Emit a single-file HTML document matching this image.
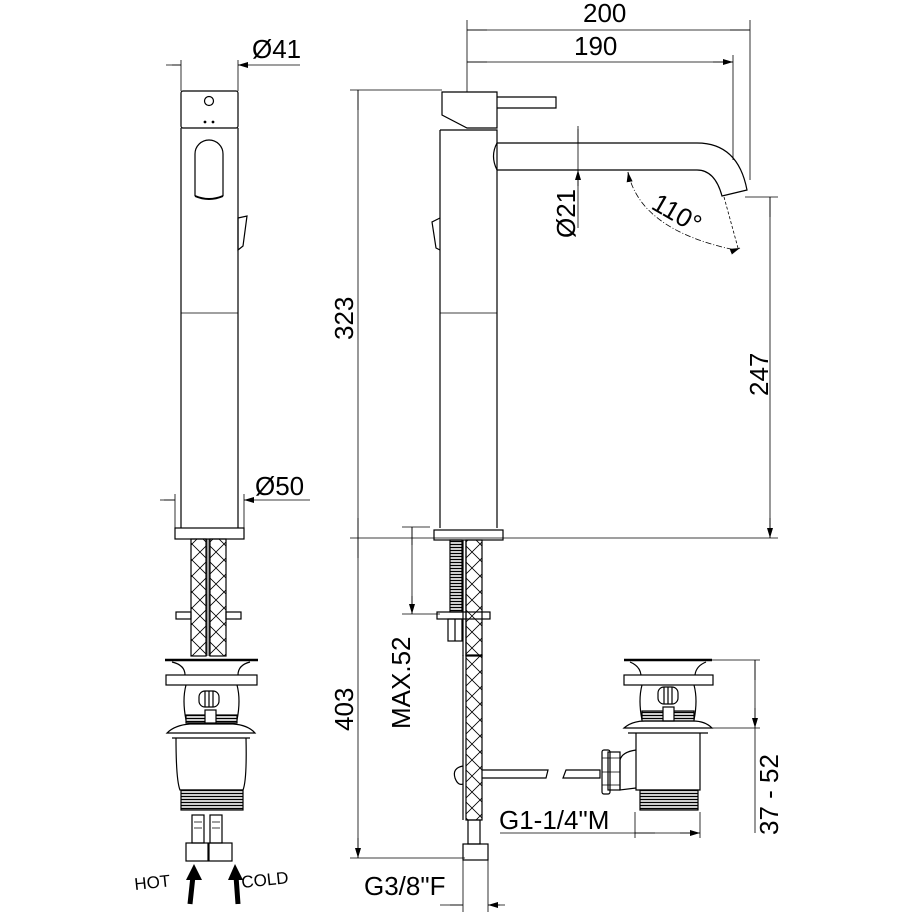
<!DOCTYPE html>
<html><head><meta charset="utf-8"><style>
html,body{margin:0;padding:0;background:#fff}
svg{display:block}
text{font-family:"Liberation Sans",sans-serif;fill:#000}
</style></head><body>
<svg width="914" height="914" viewBox="0 0 914 914" xmlns="http://www.w3.org/2000/svg">
<defs>
<pattern id="xh" width="16" height="16" patternUnits="userSpaceOnUse">
<path d="M0 0L16 16M16 0L0 16" stroke="#000" stroke-width="0.8"/>
</pattern>
<pattern id="th" width="4" height="3" patternUnits="userSpaceOnUse">
<rect width="4" height="3" fill="#fff"/><path d="M0 1.5H4" stroke="#000" stroke-width="1.4"/>
</pattern>
<marker id="ar" markerWidth="10" markerHeight="6" refX="10" refY="3" orient="auto-start-reverse" markerUnits="userSpaceOnUse">
<path d="M0 0L10 3L0 6Z" fill="#000"/>
</marker>
</defs>
<g fill="none" stroke="#000" stroke-width="1.2">
<!-- LEFT VIEW -->
<path d="M181 60V91M238 60V91" stroke-width="0.8"/>
<path d="M166 65H181M238 65H300" stroke-width="0.8"/>
<path d="M172 65H181M247 65H238" stroke-width="0.8" marker-end="url(#ar)"/>
<rect x="181" y="91" width="57" height="37" rx="2"/>
<circle cx="209" cy="101" r="4.5"/>
<circle cx="205" cy="122" r="0.8" fill="#000"/><circle cx="213" cy="122" r="0.8" fill="#000"/>
<path d="M181 128V528M238 128V528"/>
<path d="M195 196V154A14 14 0 0 1 223 154V196"/>
<path d="M195 196Q209 202 223 196" stroke-width="2"/>
<path d="M238 218L247 216L243 246L238 250Z"/>
<path d="M181 313H238" stroke-width="0.8"/>
<rect x="175" y="528" width="69" height="11"/>
<path d="M175 494V528M244 494V528" stroke-width="0.8"/>
<path d="M160 500H175M244 500H310" stroke-width="0.8"/>
<path d="M164 500H175M254 500H244" stroke-width="0.8" marker-end="url(#ar)"/>
<rect x="191" y="539" width="15" height="117" fill="url(#xh)"/>
<rect x="210" y="539" width="16" height="117" fill="url(#xh)"/>
<path d="M207 539V656M209 539V656" stroke-width="0.8"/>
<rect x="176" y="612" width="15" height="7"/><rect x="226" y="612" width="15" height="7"/>
<!-- left drain -->
<path d="M165 660H258" stroke-width="2.5"/>
<path d="M172 662Q185 665 185 675M250 662Q238 665 238 675"/>
<rect x="166" y="675" width="91" height="10"/>
<path d="M186 685Q182 700 186 720M237 685Q241 700 237 720"/>
<rect x="199" y="691" width="20" height="16" rx="6"/>
<path d="M205 691V707M209 691V707M213 691V707"/>
<rect x="186" y="715" width="51" height="8" fill="url(#th)"/>
<rect x="205" y="710" width="11" height="13" fill="#fff"/>
<path d="M167 733Q175 725 190 724H233Q248 725 255 733H167ZM167 733H255M172 738H250"/>
<path d="M176 738Q176 780 180 790H243Q247 780 246 738"/>
<rect x="181" y="790" width="62" height="20" fill="url(#th)"/>
<rect x="192" y="815" width="12" height="28"/><rect x="210" y="815" width="12" height="28"/>
<path d="M194 822H202M194 828H202M212 822H220M212 828H220" stroke-width="0.8"/>
<rect x="186" y="843" width="22" height="18"/><rect x="209" y="843" width="23" height="18"/>
<!-- MIDDLE VIEW -->
<path d="M350 90H442M358 90V538M358 538V858" stroke-width="0.8"/>
<path d="M358 110V90M358 518V538M358 558V538M358 838V858" stroke-width="0.8" marker-end="url(#ar)"/>
<path d="M350 538H778M350 858H465" stroke-width="0.8"/>
<path d="M467 20V92M750 20V180M733 55V160" stroke-width="0.8"/>
<path d="M467 30H750M467 62H733" stroke-width="0.8"/>
<path d="M487 30H467M730 30H750M487 62H467M713 62H733" stroke-width="0.8" marker-end="url(#ar)"/>
<path d="M442 92H497V128H467L442 115Z"/>
<path d="M497 97H556V108H497"/>
<path d="M440 130H497V528M440 130V528"/>
<path d="M440 313H497" stroke-width="0.8"/>
<path d="M440 218L432 222L436 248L440 250"/>
<path d="M497 143H697Q738 143 747 190L722 196Q715 170 697 170H497"/>
<path d="M497 143Q490 156 497 170"/>
<path d="M578 126V228" stroke-width="0.8"/>
<path d="M578 129V143M578 186V170" stroke-width="0.8" marker-end="url(#ar)"/>
<path d="M628 172Q640 230 735 250" stroke-width="0.8" stroke-dasharray="6 2 1 2"/>
<path d="M735 250L740 248" marker-end="url(#ar)" stroke-width="0.8"/>
<path d="M629 178L628 172" marker-end="url(#ar)" stroke-width="0.8"/>
<path d="M724 197L738 248" stroke-width="0.8" stroke-dasharray="3 2"/>
<path d="M745 197H778M770 197V538" stroke-width="0.8"/>
<path d="M770 217V197M770 518V538" stroke-width="0.8" marker-end="url(#ar)"/>
<rect x="434" y="530" width="69" height="10"/>
<rect x="450" y="540" width="12" height="72" fill="url(#th)"/>
<path d="M463 540V656M466 540V656"/>
<rect x="466" y="540" width="16" height="116" fill="url(#xh)"/>
<rect x="437" y="612" width="53" height="7"/>
<rect x="448" y="619" width="14" height="22"/><path d="M455 619V641"/>
<path d="M402 527H430M402 614H440M412 527V614" stroke-width="0.8"/>
<path d="M412 545V527M412 596V614" stroke-width="0.8" marker-end="url(#ar)"/>
<rect x="466" y="655" width="16" height="165" fill="url(#xh)"/>
<path d="M463 655V820" />
<path d="M463 766Q452 768 455 778Q458 786 463 784"/>
<path d="M482 770H548L546 778H482"/>
<path d="M566 770H600V778H563Z"/>
<rect x="468" y="820" width="12" height="24"/>
<rect x="463" y="844" width="25" height="16"/>
<path d="M463 860V912M488 860V912" stroke-width="0.8"/>
<path d="M440 905H463M488 905H505" stroke-width="0.8"/>
<path d="M450 905H463M500 905H488" stroke-width="0.8" marker-end="url(#ar)"/>
<!-- right drain -->
<path d="M624 660H712" stroke-width="2.5"/>
<path d="M630 662Q640 666 641 675M706 662Q696 666 695 675"/>
<rect x="624" y="675" width="89" height="10"/>
<path d="M642 685Q638 700 642 720M694 685Q698 700 694 720"/>
<rect x="658" y="687" width="20" height="17" rx="6"/>
<path d="M664 687V704M668 687V704M672 687V704"/>
<rect x="642" y="711" width="52" height="10" fill="url(#th)"/>
<rect x="663" y="707" width="11" height="14" fill="#fff"/>
<path d="M624 728Q632 721 645 721H693Q705 721 712 728H624ZM624 728H712M628 733H708"/>
<path d="M636 733V790H700V733"/>
<rect x="640" y="790" width="58" height="20" fill="url(#th)"/>
<path d="M636 750Q622 752 620 760V790L636 788"/>
<rect x="608" y="752" width="12" height="38"/>
<rect x="602" y="750" width="8" height="44" rx="2"/>
<path d="M602 758H620M602 772H620M602 785H620" stroke-width="0.8"/>
<path d="M712 660H760M712 728H760M755 660V833" stroke-width="0.8"/>
<path d="M755 680V660M755 708V728" stroke-width="0.8" marker-end="url(#ar)"/>
<path d="M635 812V838M700 812V838M500 833H700" stroke-width="0.8"/>
<path d="M655 833H635M680 833H700" stroke-width="0.8" marker-end="url(#ar)"/>
<!-- HOT/COLD arrows -->
<path d="M193 876L190 904M236 876L238 904" stroke-width="5"/>
</g>
<path d="M194 864L186 880H202Z M235 864L228 880H243Z" fill="#000"/>
<g font-size="26">
<text x="252" y="58">Ø41</text>
<text x="255" y="495">Ø50</text>
<text x="583" y="22">200</text>
<text x="574" y="55">190</text>
<text x="364" y="895">G3/8"F</text>
<text x="499" y="829">G1-1/4"M</text>
<text transform="translate(353,340) rotate(-90)">323</text>
<text transform="translate(353,731) rotate(-90)">403</text>
<text transform="translate(410,729) rotate(-90)">MAX.52</text>
<text transform="translate(575,238) rotate(-90)">Ø21</text>
<text transform="translate(768,396) rotate(-90)">247</text>
<text transform="translate(778,835) rotate(-90)">37 - 52</text>
<text transform="translate(650,208) rotate(30)">110°</text>
</g>
<g font-size="17">
<text transform="translate(135,890) rotate(-6)">HOT</text>
<text transform="translate(242,888) rotate(-6)">COLD</text>
</g>
</svg>
</body></html>
